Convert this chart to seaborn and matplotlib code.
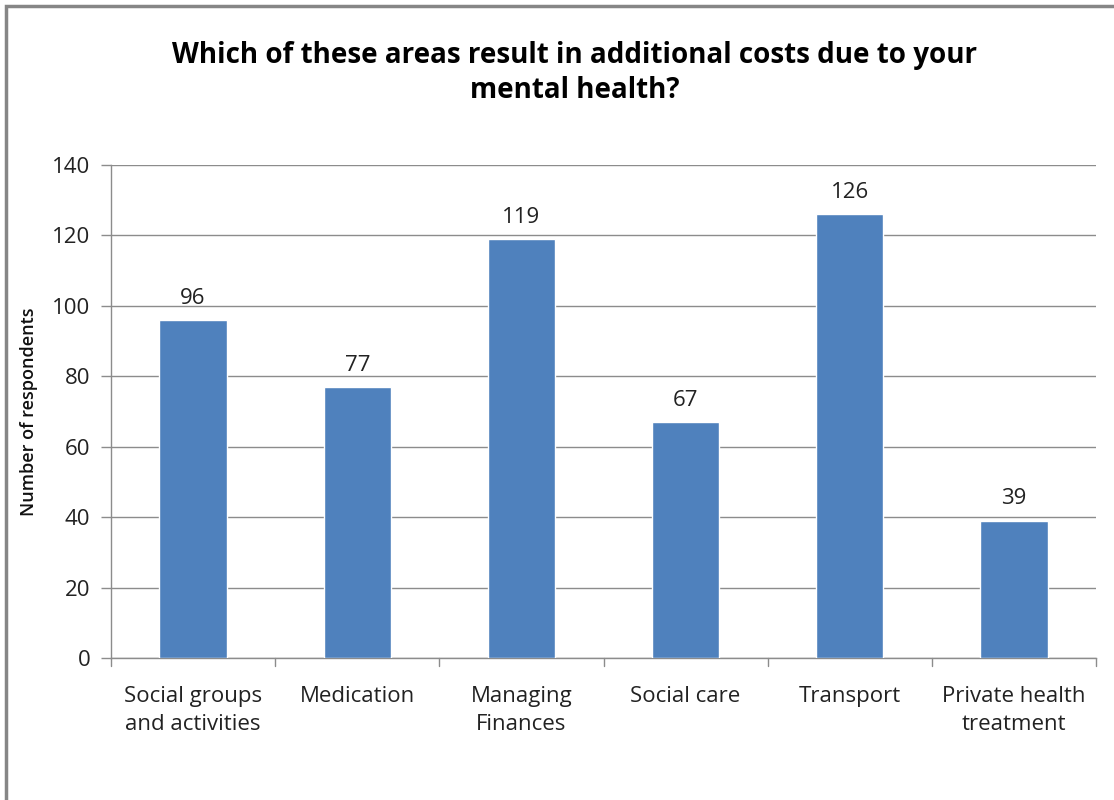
import matplotlib
matplotlib.use("Agg")
import matplotlib.pyplot as plt
import seaborn as sns
import pandas as pd
from matplotlib.patches import Rectangle

categories = ["Social groups\nand activities", "Medication", "Managing\nFinances",
              "Social care", "Transport", "Private health\ntreatment"]
respondents = [96, 77, 119, 67, 126, 39]
y_ticks = [0, 20, 40, 60, 80, 100, 120, 140]
title = "Which of these areas result in additional costs due to your\nmental health?"
y_label = "Number of respondents"

sns.set_theme(style="white")
plt.rcParams["font.family"] = ["Open Sans", "DejaVu Sans"]

df = pd.DataFrame({"category": categories, "count": respondents})

fig = plt.figure(figsize=(11.14, 8.0), dpi=100)
ax = fig.add_axes([111 / 1114, 142 / 800, (1096 - 111) / 1114, (658 - 165) / 800])

sns.barplot(data=df, x="category", y="count", color="#4F81BD", saturation=1,
            width=0.41, ax=ax, zorder=3)

grid_c = "#8C8C8C"
ax.set_ylim(0, 140)
ax.set_xlim(-0.5, len(categories) - 0.5)
ax.set_yticks(y_ticks)
ax.yaxis.grid(True, color=grid_c, linewidth=1, zorder=0)
ax.xaxis.grid(False)
for side in ["top", "right"]:
    ax.spines[side].set_visible(False)
for side in ["left", "bottom"]:
    ax.spines[side].set_color(grid_c)
    ax.spines[side].set_linewidth(1)

ax.tick_params(axis="y", left=True, length=7, width=1, color=grid_c,
               labelsize=16, labelcolor="#222222", pad=8)
ax.tick_params(axis="x", bottom=False, labelsize=16, labelcolor="#222222", pad=14)
for lbl in ax.get_xticklabels():
    lbl.set_linespacing(1.45)

# category separators below the baseline
for b in range(len(categories) + 1):
    ax.plot([b - 0.5, b - 0.5], [0, -2.3], color=grid_c, lw=1, clip_on=False)

for i, v in enumerate(respondents):
    ax.text(i, v + 3.2, str(v), ha="center", va="bottom", fontsize=16, color="#222222")

ax.set_xlabel("")
ax.set_ylabel(y_label, fontsize=13, fontweight="semibold", color="#111111", labelpad=10)

fig.text(575 / 1114, 1 - 73 / 800, title, ha="center", va="center",
         fontsize=20, fontweight="bold", color="#000000", linespacing=1.3)

# outer chart frame
fig.patches.append(Rectangle((6 / 1114, -0.1), 1.2, 1 - 6 / 800 + 0.1,
                             transform=fig.transFigure, fill=False,
                             edgecolor="#868686", linewidth=2.5))

fig.savefig("out.png", dpi=100)
